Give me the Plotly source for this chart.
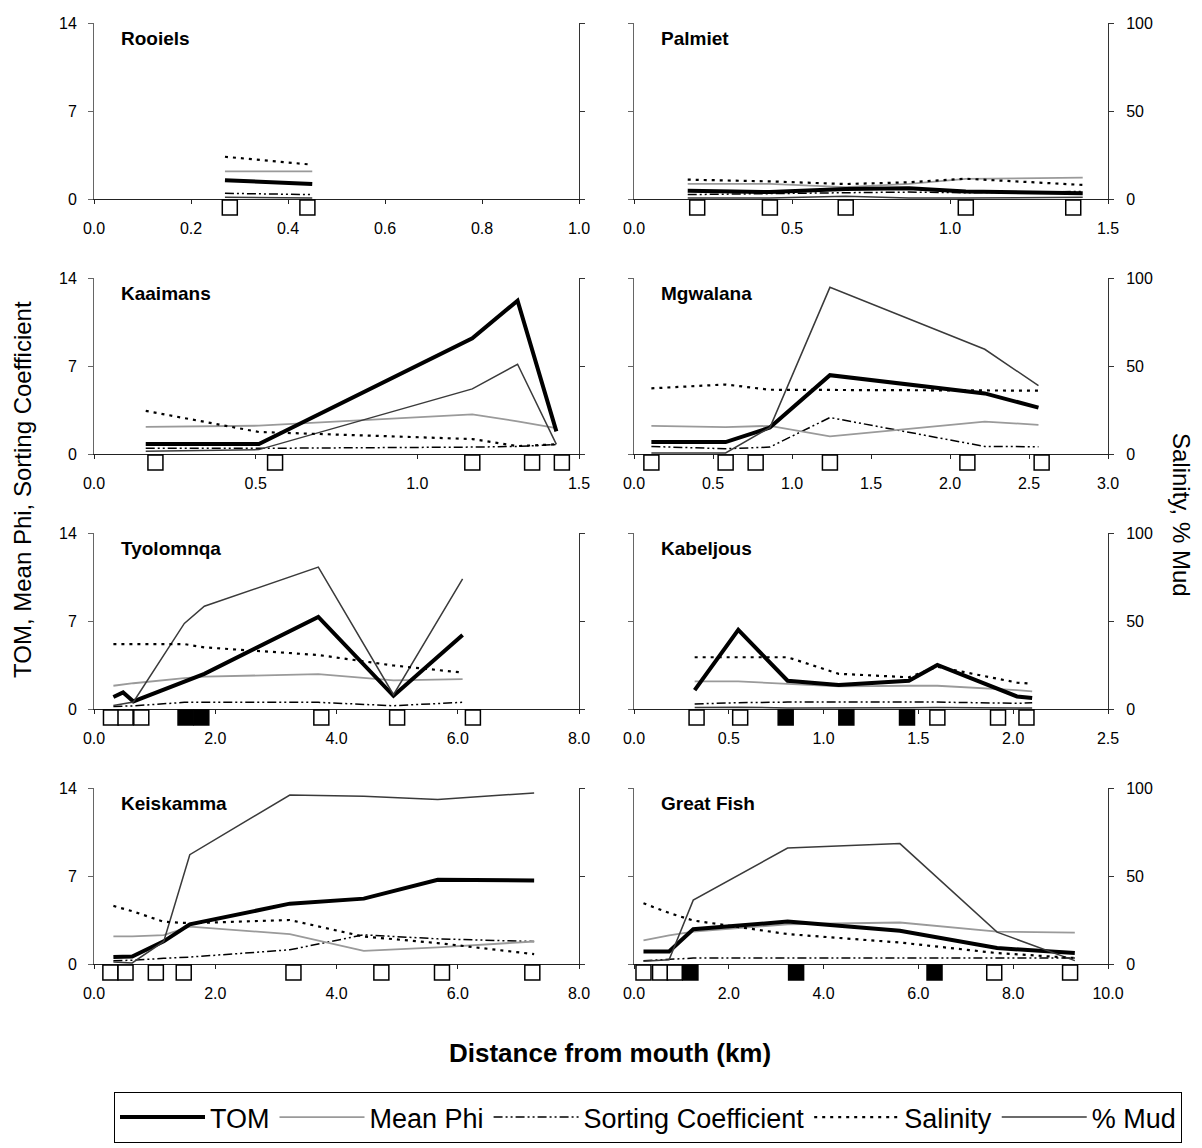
import plotly.graph_objects as go

# ---------------- data ----------------
rooiels_km = [0.27, 0.45]
rooiels_tom = [1.5, 1.2]
rooiels_phi = [2.2, 2.2]
rooiels_sort = [0.45, 0.35]
rooiels_sal = [24.0, 19.5]
rooiels_mud = [1.0, 0.5]
rooiels_open = [0.28, 0.44]
rooiels_filled = []

palmiet_km = [0.17, 0.43, 0.67, 0.87, 1.05, 1.42]
palmiet_tom = [0.65, 0.55, 0.8, 0.85, 0.6, 0.45]
palmiet_phi = [1.2, 1.2, 0.95, 1.2, 1.6, 1.7]
palmiet_sort = [0.35, 0.4, 0.5, 0.55, 0.5, 0.6]
palmiet_sal = [11.0, 10.0, 8.5, 9.5, 11.5, 8.0]
palmiet_mud = [0.5, 0.5, 1.5, 0.5, 0.5, 1.0]
palmiet_open = [0.2, 0.43, 0.67, 1.05, 1.39]
palmiet_filled = []

kaaimans_km = [0.16, 0.51, 1.17, 1.31, 1.43]
kaaimans_tom = [0.8, 0.8, 9.2, 12.2, 1.8]
kaaimans_phi = [2.15, 2.25, 3.15, 2.6, 2.05]
kaaimans_sort = [0.45, 0.45, 0.55, 0.6, 0.75]
kaaimans_sal = [24.5, 12.5, 8.5, 4.5, 5.5]
kaaimans_mud = [1.5, 2.5, 37.0, 51.0, 5.5]
kaaimans_open = [0.19, 0.56, 1.17, 1.355, 1.447]
kaaimans_filled = []

mgwalana_km = [0.11, 0.58, 0.86, 1.24, 2.22, 2.56]
mgwalana_tom = [0.95, 0.95, 2.1, 6.27, 4.82, 3.69]
mgwalana_phi = [2.24, 2.14, 2.24, 1.4, 2.58, 2.32]
mgwalana_sort = [0.6, 0.42, 0.55, 2.9, 0.6, 0.58]
mgwalana_sal = [37.3, 39.5, 36.5, 36.3, 36.2, 36.0]
mgwalana_mud = [0.6, 0.6, 15.0, 94.7, 59.5, 38.8]
mgwalana_open = [0.11, 0.58, 0.77, 1.24, 2.11, 2.58]
mgwalana_filled = []

tyolomnqa_km = [0.32, 0.48, 0.65, 1.49, 1.82, 3.7, 4.94, 6.08]
tyolomnqa_tom = [0.95, 1.32, 0.6, 2.15, 2.8, 7.33, 1.05, 5.88]
tyolomnqa_phi = [1.85, 1.95, 2.05, 2.45, 2.58, 2.77, 2.27, 2.37]
tyolomnqa_sort = [0.2, 0.2, 0.25, 0.53, 0.53, 0.53, 0.26, 0.53]
tyolomnqa_sal = [36.9, 36.9, 36.9, 36.9, 35.0, 30.7, 24.7, 20.7]
tyolomnqa_mud = [2.0, 3.0, 4.0, 48.6, 58.4, 80.6, 8.1, 74.0]
tyolomnqa_open = [0.28, 0.52, 0.78, 3.75, 5.0, 6.25]
tyolomnqa_filled = [1.51, 1.77]

kabeljous_km = [0.32, 0.55, 0.81, 1.08, 1.45, 1.6, 2.02, 2.1]
kabeljous_tom = [1.5, 6.3, 2.25, 1.9, 2.25, 3.5, 1.0, 0.87]
kabeljous_phi = [2.19, 2.19, 2.0, 1.8, 1.85, 1.85, 1.5, 1.4]
kabeljous_sort = [0.4, 0.5, 0.55, 0.55, 0.55, 0.55, 0.45, 0.5]
kabeljous_sal = [29.4, 29.4, 29.4, 20.0, 18.0, 24.0, 15.0, 14.3]
kabeljous_mud = [0.8, 1.0, 0.6, 0.5, 0.7, 0.9, 0.6, 0.5]
kabeljous_open = [0.33, 0.56, 1.6, 1.92, 2.07]
kabeljous_filled = [0.80, 1.12, 1.44]

keiskamma_km = [0.32, 0.63, 1.15, 1.58, 3.23, 4.45, 5.67, 7.26]
keiskamma_tom = [0.55, 0.6, 1.8, 3.15, 4.8, 5.2, 6.7, 6.65]
keiskamma_phi = [2.2, 2.2, 2.3, 2.98, 2.37, 1.05, 1.32, 1.79]
keiskamma_sort = [0.26, 0.3, 0.45, 0.55, 1.13, 2.32, 2.0, 1.79]
keiskamma_sal = [33.0, 30.0, 24.0, 23.2, 25.0, 15.6, 11.9, 5.6]
keiskamma_mud = [1.1, 0.6, 12.8, 62.1, 96.0, 95.3, 93.4, 97.2]
keiskamma_open = [0.27, 0.52, 1.02, 1.48, 3.29, 4.74, 5.74, 7.23]
keiskamma_filled = []

greatfish_km = [0.2, 0.74, 1.25, 3.24, 5.61, 7.66, 9.3]
greatfish_tom = [1.0, 1.0, 2.77, 3.37, 2.64, 1.27, 0.87]
greatfish_phi = [1.87, 2.27, 2.58, 3.16, 3.3, 2.58, 2.5]
greatfish_sort = [0.26, 0.35, 0.47, 0.47, 0.47, 0.47, 0.47]
greatfish_sal = [34.5, 29.0, 24.7, 17.0, 12.2, 6.2, 3.4]
greatfish_mud = [1.5, 2.4, 36.3, 65.9, 68.4, 18.1, 1.9]
greatfish_open = [0.2, 0.55, 0.86, 7.6, 9.2]
greatfish_filled = [1.19, 3.42, 6.34]

estuaries = ["Rooiels", "Palmiet", "Kaaimans", "Mgwalana",
             "Tyolomnqa", "Kabeljous", "Keiskamma", "Great Fish"]
x_max = [1.0, 1.5, 1.5, 3.0, 8.0, 2.5, 8.0, 10.0]
x_step = [0.2, 0.5, 0.5, 0.5, 2.0, 0.5, 2.0, 2.0]
left_ticks = [0, 7, 14]
right_ticks = [0, 50, 100]

panels = [
    (rooiels_km, rooiels_tom, rooiels_phi, rooiels_sort, rooiels_sal, rooiels_mud, rooiels_open, rooiels_filled),
    (palmiet_km, palmiet_tom, palmiet_phi, palmiet_sort, palmiet_sal, palmiet_mud, palmiet_open, palmiet_filled),
    (kaaimans_km, kaaimans_tom, kaaimans_phi, kaaimans_sort, kaaimans_sal, kaaimans_mud, kaaimans_open, kaaimans_filled),
    (mgwalana_km, mgwalana_tom, mgwalana_phi, mgwalana_sort, mgwalana_sal, mgwalana_mud, mgwalana_open, mgwalana_filled),
    (tyolomnqa_km, tyolomnqa_tom, tyolomnqa_phi, tyolomnqa_sort, tyolomnqa_sal, tyolomnqa_mud, tyolomnqa_open, tyolomnqa_filled),
    (kabeljous_km, kabeljous_tom, kabeljous_phi, kabeljous_sort, kabeljous_sal, kabeljous_mud, kabeljous_open, kabeljous_filled),
    (keiskamma_km, keiskamma_tom, keiskamma_phi, keiskamma_sort, keiskamma_sal, keiskamma_mud, keiskamma_open, keiskamma_filled),
    (greatfish_km, greatfish_tom, greatfish_phi, greatfish_sort, greatfish_sal, greatfish_mud, greatfish_open, greatfish_filled),
]

# ---------------- layout geometry (screen pixels) ----------------
W, H = 1202, 1148
OFF = 8  # page body margin: figure origin sits 8 px in from the window corner
FONT = "Liberation Sans, Arial, sans-serif"
col_px = [(94, 579), (634, 1108)]
row_px = [(23, 199), (278, 454), (533, 709), (788, 964)]
SITE_BAND = 17  # height (px) of the band under each x axis holding site markers

def fx(p):
    return (p - OFF) / W

def fy(p):
    return 1 - (p - OFF) / H

styles = {
    "TOM": dict(color="black", width=4),
    "Mean Phi": dict(color="#9a9a9a", width=1.8),
    "Sorting Coefficient": dict(color="black", width=1.5, dash="9px,3px,2px,3px,2px,3px"),
    "Salinity": dict(color="black", width=2.2, dash="3px,5px"),
    "% Mud": dict(color="#3a3a3a", width=1.5),
}
rank = {"TOM": 1, "Mean Phi": 2, "Sorting Coefficient": 3, "Salinity": 4, "% Mud": 5}

fig = go.Figure()
layout = {}
annotations = []

for k, (km, tom, phi, srt, sal, mud, open_s, fill_s) in enumerate(panels):
    row, col = divmod(k, 2)
    xa = "x" if k == 0 else f"x{k + 1}"
    yl = "y" if k == 0 else f"y{2 * k + 1}"
    yr = f"y{2 * k + 2}"
    ys = f"y{17 + k}"
    xkey = "xaxis" if k == 0 else f"xaxis{k + 1}"
    ylkey = "yaxis" if k == 0 else f"yaxis{2 * k + 1}"
    yrkey = f"yaxis{2 * k + 2}"
    yskey = f"yaxis{17 + k}"

    x0, x1 = col_px[col]
    t, b = row_px[row]
    layout[xkey] = dict(
        domain=[fx(x0), fx(x1)], anchor=yl, range=[0, x_max[k]], dtick=x_step[k],
        tick0=0, tickformat=".1f", showline=True, linecolor="#222", linewidth=1,
        ticks="outside", ticklen=4, tickcolor="#222", ticklabelstandoff=11,
        showgrid=False, zeroline=False, automargin=False,
        tickfont=dict(family=FONT, size=16, color="black"),
    )
    layout[ylkey] = dict(
        domain=[fy(b), fy(t)], anchor=xa, side="left", range=[0, 14],
        tickvals=left_ticks, showline=True, linecolor="#666", linewidth=1,
        ticks="outside", ticklen=5, tickcolor="#666", showticklabels=(col == 0),
        ticklabelstandoff=8, showgrid=False, zeroline=False, automargin=False,
        tickfont=dict(family=FONT, size=16, color="black"),
    )
    layout[yrkey] = dict(
        overlaying=yl, anchor=xa, side="right", range=[0, 100],
        tickvals=right_ticks, showline=True, linecolor="#333", linewidth=1,
        ticks="outside", ticklen=5, tickcolor="#333", showticklabels=(col == 1),
        ticklabelstandoff=9, showgrid=False, zeroline=False, automargin=False,
        tickfont=dict(family=FONT, size=16, color="black"),
    )
    layout[yskey] = dict(
        domain=[fy(b + SITE_BAND), fy(b)], anchor=xa, range=[-1, 1],
        visible=False, fixedrange=True,
    )

    series = [("% Mud", mud, yr), ("Salinity", sal, yr), ("Sorting Coefficient", srt, yl),
              ("Mean Phi", phi, yl), ("TOM", tom, yl)]
    for name, vals, ax in series:
        fig.add_trace(go.Scatter(
            x=km, y=vals, mode="lines", name=name, line=styles[name],
            xaxis=xa, yaxis=ax, legendgroup=name, showlegend=(k == 0),
            legendrank=rank[name],
        ))
    if open_s:
        fig.add_trace(go.Scatter(
            x=open_s, y=[0] * len(open_s), mode="markers", xaxis=xa, yaxis=ys,
            marker=dict(symbol="square", size=15, color="white", line=dict(color="black", width=1.5)),
            cliponaxis=False, showlegend=False, hoverinfo="x",
        ))
    if fill_s:
        fig.add_trace(go.Scatter(
            x=fill_s, y=[0] * len(fill_s), mode="markers", xaxis=xa, yaxis=ys,
            marker=dict(symbol="square", size=15, color="black", line=dict(color="black", width=1.5)),
            cliponaxis=False, showlegend=False, hoverinfo="x",
        ))
    annotations.append(dict(
        text=f"<b>{estuaries[k]}</b>", xref="paper", yref="paper",
        x=fx(x0 + 25), y=fy(t + 15), xanchor="left", yanchor="middle",
        showarrow=False, font=dict(family=FONT, size=19, color="black"),
    ))

annotations += [
    dict(text="TOM, Mean Phi, Sorting Coefficient", xref="paper", yref="paper",
         x=fx(22), y=fy(490), textangle=-90, showarrow=False, xanchor="center", yanchor="middle",
         font=dict(family=FONT, size=24, color="black")),
    dict(text="Salinity, % Mud", xref="paper", yref="paper",
         x=fx(1182), y=fy(515), textangle=90, showarrow=False, xanchor="center", yanchor="middle",
         font=dict(family=FONT, size=24, color="black")),
    dict(text="<b>Distance from mouth (km)</b>", xref="paper", yref="paper",
         x=fx(610), y=fy(1053), showarrow=False, xanchor="center", yanchor="middle",
         font=dict(family=FONT, size=26, color="black")),
]

fig.update_layout(
    width=W, height=H, margin=dict(l=0, r=0, t=0, b=0, pad=0, autoexpand=False),
    paper_bgcolor="white", plot_bgcolor="rgba(0,0,0,0)",
    annotations=annotations,
    legend=dict(
        orientation="h", x=fx(648), xanchor="center", y=fy(1092), yanchor="top",
        bordercolor="black", borderwidth=1, bgcolor="white",
        font=dict(family="Liberation Sans Narrow, " + FONT, size=27, color="black"),
        itemwidth=85, traceorder="normal",
    ),
    **layout,
)

fig.write_html("out.html")
